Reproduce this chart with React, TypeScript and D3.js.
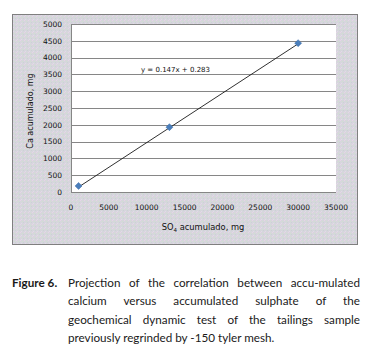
import React, { useLayoutEffect, useRef, useState } from "react";
import * as d3 from "d3";

const xValues = [1000, 13000, 30000];
const yValues = [180, 1930, 4430];
const xTicks = [0, 5000, 10000, 15000, 20000, 25000, 30000, 35000];
const yTicks = [0, 500, 1000, 1500, 2000, 2500, 3000, 3500, 4000, 4500, 5000];
const slope = 0.147;
const intercept = 0.283;
const equationLabel = "y = 0.147x + 0.283";
const captionLines = [
  "Projection of the correlation between accu-mulated",
  "calcium versus accumulated sulphate of the",
  "geochemical dynamic test of the tailings sample",
  "previously regrinded by -150 tyler mesh.",
];

function JustLine({ text, x, y, width, justify }: { text: string; x: number; y: number; width: number; justify: boolean }) {
  const ref = useRef<SVGTextElement>(null);
  const [ws, setWs] = useState(0);
  useLayoutEffect(() => {
    if (!justify || !ref.current) return;
    const natural = ref.current.getComputedTextLength();
    const gaps = text.split(" ").length - 1;
    if (gaps > 0) setWs(Math.max(0, (width - natural) / gaps));
  }, [text, width, justify]);
  return (
    <text ref={ref} x={x} y={y} wordSpacing={ws} style={{ wordSpacing: ws + "px" }}>
      {text}
    </text>
  );
}

export default function App() {
  const W = 370, H = 355;
  const left = 71, right = 336, top = 24, bottom = 192;
  const x = d3.scaleLinear().domain([0, 35000]).range([left, right]);
  const y = d3.scaleLinear().domain([0, 5000]).range([bottom, top]);
  const fx0 = d3.min(xValues)!, fx1 = d3.max(xValues)!;
  const trend = d3.line<number>().x((d) => x(d)).y((d) => y(slope * d + intercept));
  const tickFont = "DejaVu Sans, Verdana, sans-serif";

  return (
    <svg width={W} height={H} style={{ position: "absolute", left: 0, top: 0 }}>
      <defs>
        <pattern id="dither" width="4" height="4" patternUnits="userSpaceOnUse">
          <rect width="4" height="4" fill="#d6d6dc" />
          <rect x="0" y="0" width="1" height="1" fill="#e6d4e6" />
          <rect x="2" y="1" width="1" height="1" fill="#d0e0d0" />
          <rect x="1" y="3" width="1" height="1" fill="#e2d8ea" />
          <rect x="3" y="2" width="1" height="1" fill="#ccd0d8" />
        </pattern>
      </defs>
      <rect x={0} y={0} width={W} height={H} fill="#ffffff" />
      <rect x={12.5} y={14.5} width={345} height={230} fill="url(#dither)" stroke="#7f7f7f" strokeWidth={1} />
      <rect x={left} y={top} width={right - left} height={bottom - top} fill="#ffffff" />
      {yTicks.map((t) => (
        <line key={"g" + t} x1={left} x2={right} y1={Math.round(y(t)) + 0.5} y2={Math.round(y(t)) + 0.5} stroke="#868686" strokeWidth={1} />
      ))}
      <line x1={left + 0.5} x2={left + 0.5} y1={top} y2={bottom} stroke="#868686" strokeWidth={1} />
      {yTicks.map((t) => (
        <text key={"yl" + t} x={62} y={y(t) + 2.8} textAnchor="end" fontFamily={tickFont} fontSize={7.5} fill="#111">
          {t}
        </text>
      ))}
      {xTicks.map((t) => (
        <text key={"xl" + t} x={x(t)} y={210} textAnchor="middle" fontFamily={tickFont} fontSize={7.5} fill="#111">
          {t}
        </text>
      ))}
      <path d={trend([fx0, fx1]) || ""} stroke="#1a1a1a" strokeWidth={0.9} fill="none" />
      {xValues.map((v, i) => {
        const cx = x(v), cy = y(yValues[i]);
        const s = 3.5;
        return (
          <path key={"p" + i} d={`M${cx},${cy - s}L${cx + s},${cy}L${cx},${cy + s}L${cx - s},${cy}Z`} fill="#4a7ebb" stroke="#3d6ca8" strokeWidth={0.5} />
        );
      })}
      <text x={141} y={71.5} fontFamily={tickFont} fontSize={7} fill="#111">
        {equationLabel}
      </text>
      <text x={203} y={230} textAnchor="middle" fontFamily={tickFont} fontSize={8.3} fill="#111">
        SO<tspan fontSize={5.5} dy={1.5}>4</tspan><tspan dy={-1.5}> acumulado, mg</tspan>
      </text>
      <text transform="translate(33,111) rotate(-90)" textAnchor="middle" fontFamily={tickFont} fontSize={8} fill="#111">
        Ca acumulado, mg
      </text>
      <g fontFamily="Lato, 'Open Sans', sans-serif" fontSize={11.7} fill="#1a1a1a">
        <text x={12} y={287} fontWeight="bold">Figure 6.</text>
        {captionLines.map((l, i) => (
          <JustLine key={i} text={l} x={68} y={287 + i * 18.3} width={292} justify={i < captionLines.length - 1} />
        ))}
      </g>
    </svg>
  );
}
